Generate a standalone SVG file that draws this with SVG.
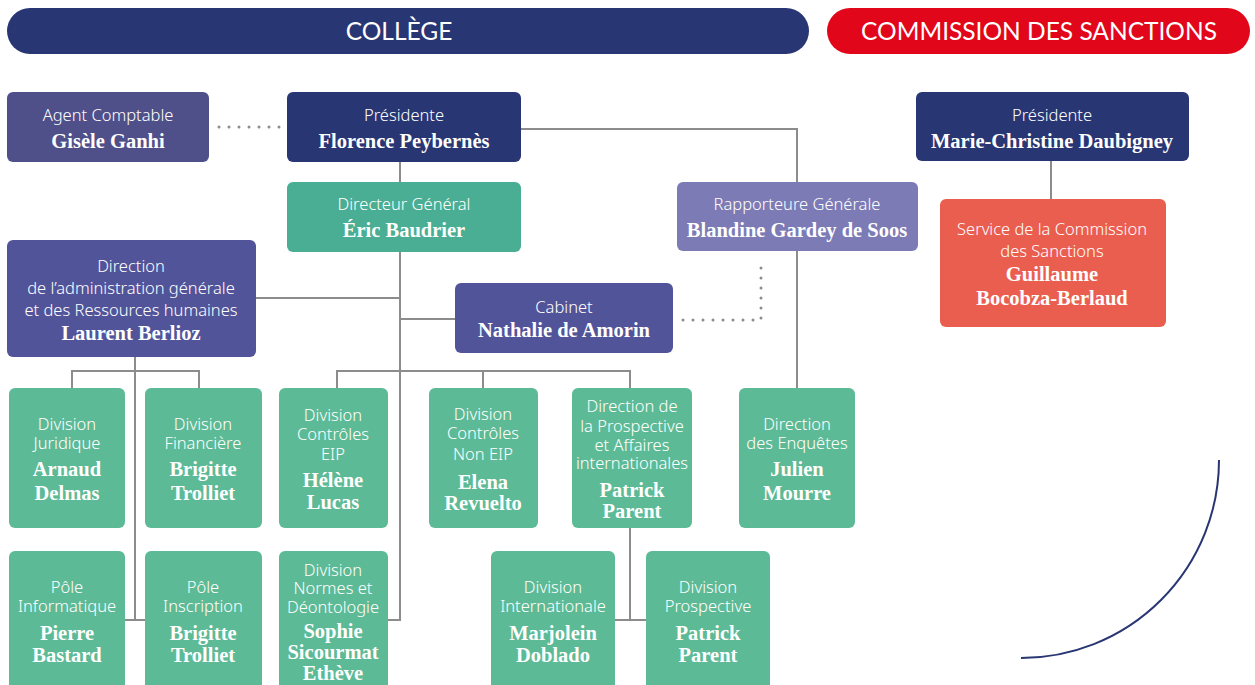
<svg xmlns="http://www.w3.org/2000/svg" width="1255" height="685" viewBox="0 0 1255 685">
<style>
.sub{font-family:"Noto Sans",Lato,"Liberation Sans",sans-serif;font-weight:300;font-size:16.5px;fill:#fff;text-anchor:middle}
.nm{font-family:"Liberation Serif","DejaVu Serif",serif;font-weight:bold;font-size:20.5px;fill:#fff;text-anchor:middle}
.ban{font-family:Lato,"Noto Sans","Liberation Sans",sans-serif;font-weight:400;font-size:24.5px;fill:#fff;text-anchor:middle}
.ln{fill:none;stroke:#8c8c8c;stroke-width:2}
.dot{fill:none;stroke:#8c8c8c;stroke-width:3;stroke-linecap:round;stroke-dasharray:0 10}
.navy{fill:#283673}.purp{fill:#52549a}.agent{fill:#4f4f8a}.lav{fill:#7d7bb5}.teal{fill:#4aae94}.grn{fill:#5dba96}.red{fill:#ea5e50}
</style>
<g id="banner-college"><rect x="7" y="8" width="802" height="46" rx="23" class="navy"/><text x="399" y="40" class="ban">COLLÈGE</text></g>
<g id="banner-commission"><rect x="827" y="8" width="423" height="46" rx="23" fill="#e2061a"/><text x="1039" y="40" class="ban">COMMISSION DES SANCTIONS</text></g>
<g id="connectors">
<path class="dot" d="M219 127 H282"/>
<path class="dot" d="M683 320 H761 V262"/>
<path class="ln" d="M521 129 H797 V182 M797 251 V388"/>
<path class="ln" d="M400 162 V182 M400 252 V620 H388 M256 298 H400 M400 319 H455"/>
<path class="ln" d="M337 388 V371 H630 V388 M483 371 V388"/>
<path class="ln" d="M630 528 V620 M615 620 H646"/>
<path class="ln" d="M135 357 V620 M125 620 H145 M72 388 V371 H199 V388"/>
<path class="ln" d="M1051 161 V199"/>
</g>
<g id="agent"><rect x="7" y="92" width="202" height="70" rx="6" class="agent"/><text x="108" y="121" class="sub">Agent Comptable</text><text x="108" y="148" class="nm">Gisèle Ganhi</text></g>
<g id="presidente"><rect x="287" y="92" width="234" height="70" rx="6" class="navy"/><text x="404" y="121" class="sub">Présidente</text><text x="404" y="148" class="nm">Florence Peybernès</text></g>
<g id="dg"><rect x="287" y="182" width="234" height="70" rx="6" class="teal"/><text x="404" y="210" class="sub">Directeur Général</text><text x="404" y="237" class="nm">Éric Baudrier</text></g>
<g id="rapporteure"><rect x="677" y="182" width="241" height="69" rx="6" class="lav"/><text x="797" y="210" class="sub">Rapporteure Générale</text><text x="797" y="237" class="nm">Blandine Gardey de Soos</text></g>
<g id="presidente-cds"><rect x="916" y="92" width="273" height="69" rx="6" class="navy"/><text x="1052" y="121" class="sub">Présidente</text><text x="1052" y="148" class="nm">Marie-Christine Daubigney</text></g>
<g id="service-cds"><rect x="940" y="199" width="226" height="128" rx="6" class="red"/><text x="1052" y="235" class="sub">Service de la Commission</text><text x="1052" y="257" class="sub">des Sanctions</text><text x="1052" y="281" class="nm">Guillaume</text><text x="1052" y="305" class="nm">Bocobza-Berlaud</text></g>
<g id="daf"><rect x="7" y="240" width="249" height="117" rx="6" class="purp"/><text x="131" y="272" class="sub">Direction</text><text x="131" y="294" class="sub">de l’administration générale</text><text x="131" y="316" class="sub">et des Ressources humaines</text><text x="131" y="340" class="nm">Laurent Berlioz</text></g>
<g id="cabinet"><rect x="455" y="283" width="218" height="70" rx="6" class="purp"/><text x="564" y="313" class="sub">Cabinet</text><text x="564" y="337" class="nm">Nathalie de Amorin</text></g>
<g id="div-juridique"><rect x="9" y="388" width="116" height="140" rx="6" class="grn"/><text x="67" y="430" class="sub">Division</text><text x="67" y="449" class="sub">Juridique</text><text x="67" y="476" class="nm">Arnaud</text><text x="67" y="500" class="nm">Delmas</text></g>
<g id="div-financiere"><rect x="145" y="388" width="117" height="140" rx="6" class="grn"/><text x="203" y="430" class="sub">Division</text><text x="203" y="449" class="sub">Financière</text><text x="203" y="476" class="nm">Brigitte</text><text x="203" y="500" class="nm">Trolliet</text></g>
<g id="div-eip"><rect x="279" y="388" width="109" height="140" rx="6" class="grn"/><text x="333" y="421" class="sub">Division</text><text x="333" y="440" class="sub">Contrôles</text><text x="333" y="460" class="sub">EIP</text><text x="333" y="487" class="nm">Hélène</text><text x="333" y="509" class="nm">Lucas</text></g>
<g id="div-noneip"><rect x="429" y="388" width="109" height="140" rx="6" class="grn"/><text x="483" y="420" class="sub">Division</text><text x="483" y="439" class="sub">Contrôles</text><text x="483" y="460" class="sub">Non EIP</text><text x="483" y="489" class="nm">Elena</text><text x="483" y="510" class="nm">Revuelto</text></g>
<g id="dir-prospective"><rect x="572" y="388" width="120" height="140" rx="6" class="grn"/><text x="632" y="412" class="sub">Direction de</text><text x="632" y="432" class="sub">la Prospective</text><text x="632" y="451" class="sub">et Affaires</text><text x="632" y="469" class="sub">internationales</text><text x="632" y="497" class="nm">Patrick</text><text x="632" y="518" class="nm">Parent</text></g>
<g id="dir-enquetes"><rect x="739" y="388" width="116" height="140" rx="6" class="grn"/><text x="797" y="430" class="sub">Direction</text><text x="797" y="449" class="sub">des Enquêtes</text><text x="797" y="476" class="nm">Julien</text><text x="797" y="500" class="nm">Mourre</text></g>
<g id="pole-info"><rect x="9" y="551" width="116" height="150" rx="6" class="grn"/><text x="67" y="593" class="sub">Pôle</text><text x="67" y="612" class="sub">Informatique</text><text x="67" y="640" class="nm">Pierre</text><text x="67" y="662" class="nm">Bastard</text></g>
<g id="pole-inscription"><rect x="145" y="551" width="117" height="150" rx="6" class="grn"/><text x="203" y="593" class="sub">Pôle</text><text x="203" y="612" class="sub">Inscription</text><text x="203" y="640" class="nm">Brigitte</text><text x="203" y="662" class="nm">Trolliet</text></g>
<g id="div-normes"><rect x="279" y="551" width="109" height="150" rx="6" class="grn"/><text x="333" y="576" class="sub">Division</text><text x="333" y="594" class="sub">Normes et</text><text x="333" y="613" class="sub">Déontologie</text><text x="333" y="638" class="nm">Sophie</text><text x="333" y="659" class="nm">Sicourmat</text><text x="333" y="680" class="nm">Ethève</text></g>
<g id="div-internationale"><rect x="491" y="551" width="124" height="150" rx="6" class="grn"/><text x="553" y="593" class="sub">Division</text><text x="553" y="612" class="sub">Internationale</text><text x="553" y="640" class="nm">Marjolein</text><text x="553" y="662" class="nm">Doblado</text></g>
<g id="div-prospective"><rect x="646" y="551" width="124" height="150" rx="6" class="grn"/><text x="708" y="593" class="sub">Division</text><text x="708" y="612" class="sub">Prospective</text><text x="708" y="640" class="nm">Patrick</text><text x="708" y="662" class="nm">Parent</text></g>
<path id="arc" d="M1219 460 A198 198 0 0 1 1021 658" fill="none" stroke="#283673" stroke-width="2"/>
</svg>
